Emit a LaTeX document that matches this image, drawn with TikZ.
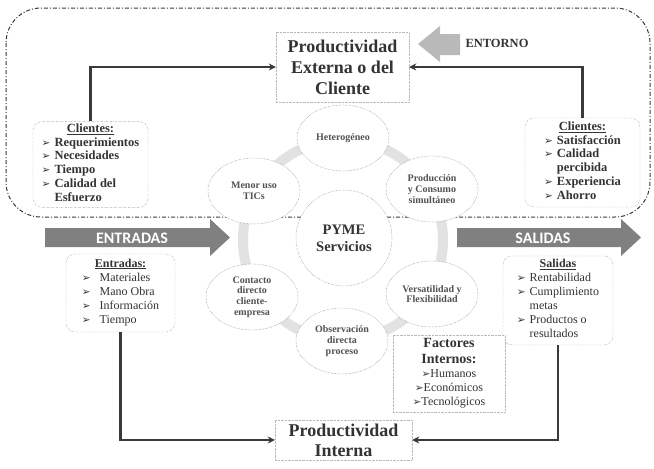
\documentclass[tikz,border=0pt]{standalone}
\usepackage{fontspec}
\setmainfont{Liberation Serif}
\newfontfamily\dvfont{DejaVu Sans}
\newfontfamily\carlfont{Carlito}
\usetikzlibrary{arrows.meta,shapes.geometric}
\newcommand\bl{{\dvfont\fontsize{10.5}{10}\selectfont\char"27A2}}
\definecolor{txt}{HTML}{333333}
\definecolor{conncol}{HTML}{3a3a3a}
\definecolor{arrowgray}{HTML}{808080}
\definecolor{ringgray}{HTML}{E2E2E2}
\begin{document}
\begin{tikzpicture}[x=1pt,y=-1pt,
  every node/.style={text=txt},
  outl/.style={draw=conncol, line width=1pt, dash pattern=on 4pt off 2pt on 1pt off 2pt},
  sqbox/.style={draw=gray!55, densely dotted, fill=white, inner sep=1pt, align=center},
  rbox/.style={draw=gray!60, dash pattern=on 2pt off 1pt on 0.5pt off 1pt, rounded corners=9pt, fill=white, inner sep=2pt, align=center},
  ell/.style={ellipse, draw=gray!80!black, densely dotted, fill=white, minimum width=92pt, minimum height=66pt, inner sep=0pt, align=center, font=\fontsize{10}{10.8}\selectfont\bfseries, text=txt!85},
  conn/.style={draw=conncol, line width=2.2pt, -{Stealth[length=7pt,width=7pt]}},
  bigarrow/.style={fill=arrowgray},
  bigtxt/.style={text=white, font=\carlfont\fontsize{16}{16}\selectfont\bfseries, inner sep=0pt},
  listfont/.style={font=\fontsize{12}{14}\selectfont}
]
\useasboundingbox (0,0) rectangle (654,469);
\fill[white] (0,0) rectangle (654,469);

% environment outline
\draw[outl, rounded corners=35pt] (6,8) rectangle (650,217);

% ring
\draw[ringgray, line width=10pt] (343,240) circle[radius=100pt];

% central circle
\node[circle, draw=gray!80!black, densely dotted, fill=white, minimum size=96pt, inner sep=0pt, align=center, font=\fontsize{14.5}{17}\selectfont\bfseries] (pyme) at (344,238) {PYME\\Servicios};

% ellipses
\node[ell] (het) at (343,138) {Heterogéneo};
\node[ell] (prod) at (432,189) {Producción\\y Consumo\\simultáneo};
\node[ell] (vers) at (432,294) {Versatilidad y\\Flexibilidad};
\node[ell] (obs) at (342,341) {Observación\\directa\\proceso};
\node[ell] (cont) at (252,297) {Contacto\\directo\\cliente-\\empresa};
\node[ell] (men) at (254,191) {Menor uso\\TICs};

% productivity boxes
\node[sqbox, minimum width=133pt, minimum height=70pt, font=\fontsize{18}{21}\selectfont\bfseries] (ext) at (342.5,67) {Productividad\\Externa o del\\Cliente};
\node[sqbox, minimum width=137pt, minimum height=40pt, font=\fontsize{18}{20}\selectfont\bfseries] (int) at (343.5,440) {Productividad\\Interna};

% entorno arrow
\fill[gray!55] (460,34) -- (440,34) -- (440,26) -- (418,44) -- (440,62) -- (440,55) -- (460,55) -- cycle;
\node[font=\fontsize{12.5}{13}\selectfont\bfseries, inner sep=0pt] (ent) at (497,43) {ENTORNO};

% clientes boxes
\node[rbox, minimum width=115pt, minimum height=85pt, font=\fontsize{12.5}{13.8}\selectfont\bfseries] (cl) at (90.5,164.5)
  {\underline{Clientes:}\\\begin{tabular}[t]{@{}l@{\hspace{4pt}}l@{}}\bl&Requerimientos\\\bl&Necesidades\\\bl&Tiempo\\\bl&Calidad del\\&Esfuerzo\end{tabular}};
\node[rbox, minimum width=115pt, minimum height=89pt, font=\fontsize{12.5}{13.8}\selectfont\bfseries] (cr) at (582.5,162.5)
  {\underline{Clientes:}\\\begin{tabular}[t]{@{}l@{\hspace{4pt}}l@{}}\bl&Satisfacción\\\bl&Calidad\\&percibida\\\bl&Experiencia\\\bl&Ahorro\end{tabular}};

% big arrows
\fill[bigarrow] (45,228) -- (210,228) -- (210,219) -- (230,237.5) -- (210,256) -- (210,247) -- (45,247) -- cycle;
\node[bigtxt] (entr) at (132,238) {ENTRADAS};
\fill[bigarrow] (457,228) -- (621,228) -- (621,219) -- (641,237.5) -- (621,256) -- (621,247) -- (457,247) -- cycle;
\node[bigtxt] (sal) at (543,238) {SALIDAS};

% entradas / salidas boxes
\node[rbox, minimum width=109pt, minimum height=78pt, listfont] (en) at (120.5,293)
  {\textbf{\underline{Entradas:}}\\\begin{tabular}[t]{@{}l@{\hspace{9pt}}l@{}}\bl&Materiales\\\bl&Mano Obra\\\bl&Información\\\bl&Tiempo\end{tabular}};
\node[rbox, minimum width=110pt, minimum height=89pt, listfont] (sa) at (558,300.5)
  {\textbf{\underline{Salidas}}\\\begin{tabular}[t]{@{}l@{\hspace{4pt}}l@{}}\bl&Rentabilidad\\\bl&Cumplimiento\\&metas\\\bl&Productos o\\&resultados\end{tabular}};

% factores internos
\node[sqbox, minimum width=112pt, minimum height=77pt, inner sep=2pt, font=\fontsize{12}{14}\selectfont] (fi) at (449,373.5) {\textbf{\fontsize{14}{17}\selectfont Factores}\\[2pt]\textbf{\fontsize{14}{17}\selectfont Internos:}\\\bl Humanos\\\bl Económicos\\\bl Tecnológicos};

% connectors
\draw[conn] (cl.north) |- (ext.west);
\draw[conn] (cr.north) |- (ext.east);
\draw[conn] (en.south) |- (int.west);
\draw[conn] (sa.south) |- (int.east);
\end{tikzpicture}
\end{document}
